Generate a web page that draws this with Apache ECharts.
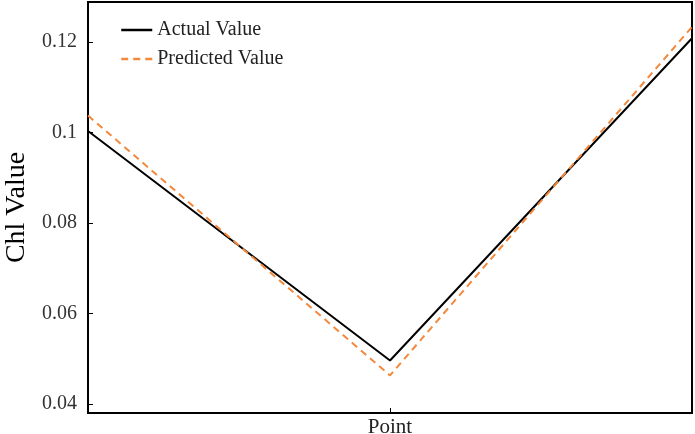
<!DOCTYPE html>
<html>
<head>
<meta charset="utf-8">
<script src="https://cdn.jsdelivr.net/npm/echarts@6/dist/echarts.min.js"></script>
<style>html,body{margin:0;padding:0;background:#fff}#c{width:695px;height:434px}</style>
</head>
<body>
<div id="c"></div>
<script>
var categories = ['', 'Point', ''];
var actualValues = [0.1003, 0.0496, 0.1208];
var predictedValues = [0.1037, 0.0463, 0.1233];
var yTicks = [0.04, 0.06, 0.08, 0.1, 0.12];

var chart = echarts.init(document.getElementById('c'));
var font = 'Liberation Serif';
chart.setOption({
  animation: false,
  textStyle: { fontFamily: font },
  grid: { left: 88, right: 3, top: 2, bottom: 21, outerBoundsMode: 'none', containLabel: false,
    show: true, borderColor: '#000', borderWidth: 2, backgroundColor: 'transparent' },
  legend: {
    orient: 'vertical', left: 115, top: 15, itemGap: 9, itemWidth: 31, itemHeight: 14,
    itemStyle: { opacity: 0 },
    lineStyle: { width: 2.5 },
    textStyle: { fontFamily: font, fontSize: 20, color: '#222' },
    data: ['Actual Value', 'Predicted Value']
  },
  xAxis: {
    type: 'category', data: categories, boundaryGap: false,
    axisLine: { lineStyle: { color: '#000', width: 2 } },
    axisTick: { inside: true, length: 5, interval: function (i) { return i === 1; }, lineStyle: { color: '#000' } },
    axisLabel: { interval: 0, fontFamily: font, fontSize: 21, color: '#222', margin: 4 },
    splitLine: { show: false }
  },
  yAxis: {
    type: 'value', min: 0.038, max: 0.1288,
    name: 'Chl Value', nameLocation: 'middle', nameGap: 56,
    nameTextStyle: { fontFamily: font, fontSize: 28, color: '#000' },
    axisLine: { show: true, lineStyle: { color: '#000', width: 2 } },
    axisTick: { show: true, inside: true, length: 5, customValues: yTicks, lineStyle: { color: '#000' } },
    axisLabel: { fontFamily: font, fontSize: 20, color: '#333', margin: 11, customValues: yTicks,
      formatter: function (v) { return String(Math.round(v * 100) / 100); } },
    splitLine: { show: false }
  },
  series: [
    { name: 'Actual Value', type: 'line', data: actualValues, symbol: 'none',
      lineStyle: { color: '#000', width: 2 }, itemStyle: { color: '#000' } },
    { name: 'Predicted Value', type: 'line', data: predictedValues, symbol: 'none',
      lineStyle: { color: '#f3883c', width: 2, type: [7, 5] }, itemStyle: { color: '#f3883c' } }
  ]
});
</script>
</body>
</html>
